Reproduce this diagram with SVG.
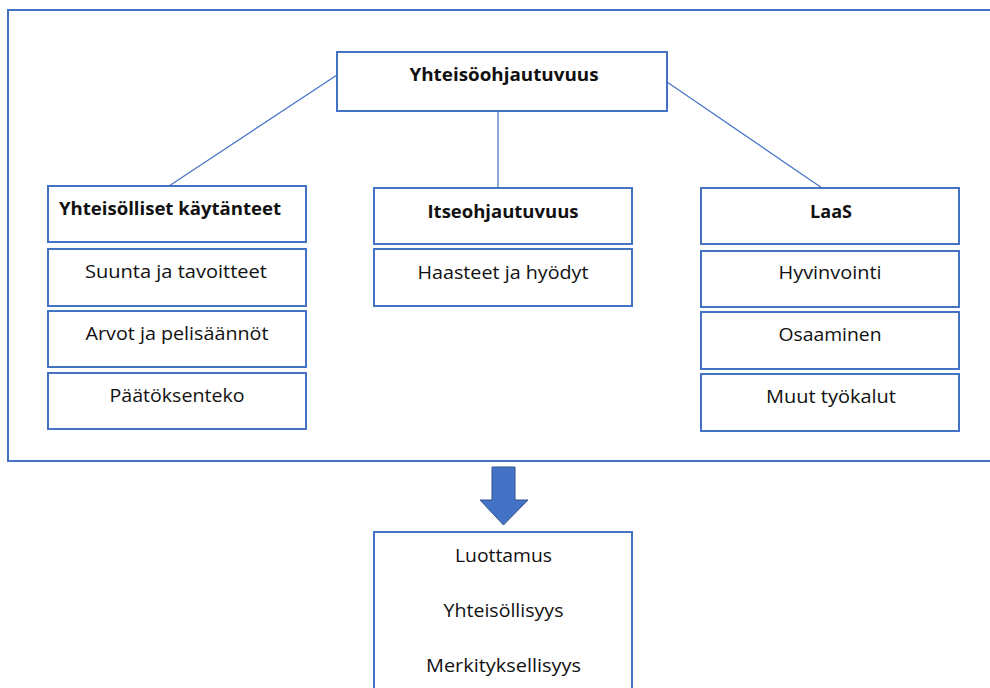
<svg xmlns="http://www.w3.org/2000/svg" width="990" height="688" viewBox="0 0 990 688">
<style>
.box{fill:#fff;stroke:#4472C4;stroke-width:2}
.frame{fill:none;stroke:#4472C4;stroke-width:2}
.conn{stroke:#4472C4;stroke-width:1.2;fill:none}
text{font-family:"Open Sans","Noto Sans","Liberation Sans",sans-serif;font-size:19px;fill:#111;text-anchor:middle}
.b{font-weight:bold;font-size:18px}
</style>
<rect width="990" height="688" fill="#fff"/>
<rect class="frame" x="8" y="10" width="1000" height="451"/>
<g id="connectors">
<line class="conn" x1="337" y1="75" x2="169" y2="186"/>
<line class="conn" x1="498" y1="111" x2="498" y2="188"/>
<line class="conn" x1="667" y1="82" x2="822" y2="188"/>
</g>
<g id="root"><rect class="box" x="337" y="52" width="330" height="59"/><text class="b" x="504" y="81" textLength="189" lengthAdjust="spacingAndGlyphs">Yhteisöohjautuvuus</text></g>
<g id="yhteisolliset"><rect class="box" x="48" y="186" width="258" height="56"/><text class="b" x="59" y="215" style="text-anchor:start" textLength="222" lengthAdjust="spacingAndGlyphs">Yhteisölliset käytänteet</text></g>
<g id="suunta"><rect class="box" x="48" y="249" width="258" height="57"/><text x="176" y="278" textLength="182" lengthAdjust="spacingAndGlyphs">Suunta ja tavoitteet</text></g>
<g id="arvot"><rect class="box" x="48" y="311" width="258" height="56"/><text x="177" y="340" textLength="183" lengthAdjust="spacingAndGlyphs">Arvot ja pelisäännöt</text></g>
<g id="paatoksenteko"><rect class="box" x="48" y="373" width="258" height="56"/><text x="177" y="402" textLength="135" lengthAdjust="spacingAndGlyphs">Päätöksenteko</text></g>
<g id="itseohjautuvuus"><rect class="box" x="374" y="188" width="258" height="56"/><text class="b" x="503" y="218" textLength="151" lengthAdjust="spacingAndGlyphs">Itseohjautuvuus</text></g>
<g id="haasteet"><rect class="box" x="374" y="249" width="258" height="57"/><text x="503" y="279" textLength="171" lengthAdjust="spacingAndGlyphs">Haasteet ja hyödyt</text></g>
<g id="laas"><rect class="box" x="701" y="188" width="258" height="56"/><text class="b" x="831" y="218" textLength="42" lengthAdjust="spacingAndGlyphs">LaaS</text></g>
<g id="hyvinvointi"><rect class="box" x="701" y="251" width="258" height="56"/><text x="830" y="279" textLength="103" lengthAdjust="spacingAndGlyphs">Hyvinvointi</text></g>
<g id="osaaminen"><rect class="box" x="701" y="312" width="258" height="57"/><text x="830" y="341" textLength="103" lengthAdjust="spacingAndGlyphs">Osaaminen</text></g>
<g id="muut"><rect class="box" x="701" y="374" width="258" height="57"/><text x="831" y="403" textLength="130" lengthAdjust="spacingAndGlyphs">Muut työkalut</text></g>
<g id="arrow"><polygon points="492,467 515,467 515,500 528,500 503.5,525 480,500 492,500" fill="#4472C4" stroke="#2F528F" stroke-width="1"/></g>
<g id="result"><rect class="box" x="374" y="532" width="258" height="170"/>
<text x="503.5" y="562" textLength="97" lengthAdjust="spacingAndGlyphs">Luottamus</text>
<text x="503.5" y="617" textLength="120" lengthAdjust="spacingAndGlyphs">Yhteisöllisyys</text>
<text x="503.5" y="672" textLength="155" lengthAdjust="spacingAndGlyphs">Merkityksellisyys</text></g>
</svg>
